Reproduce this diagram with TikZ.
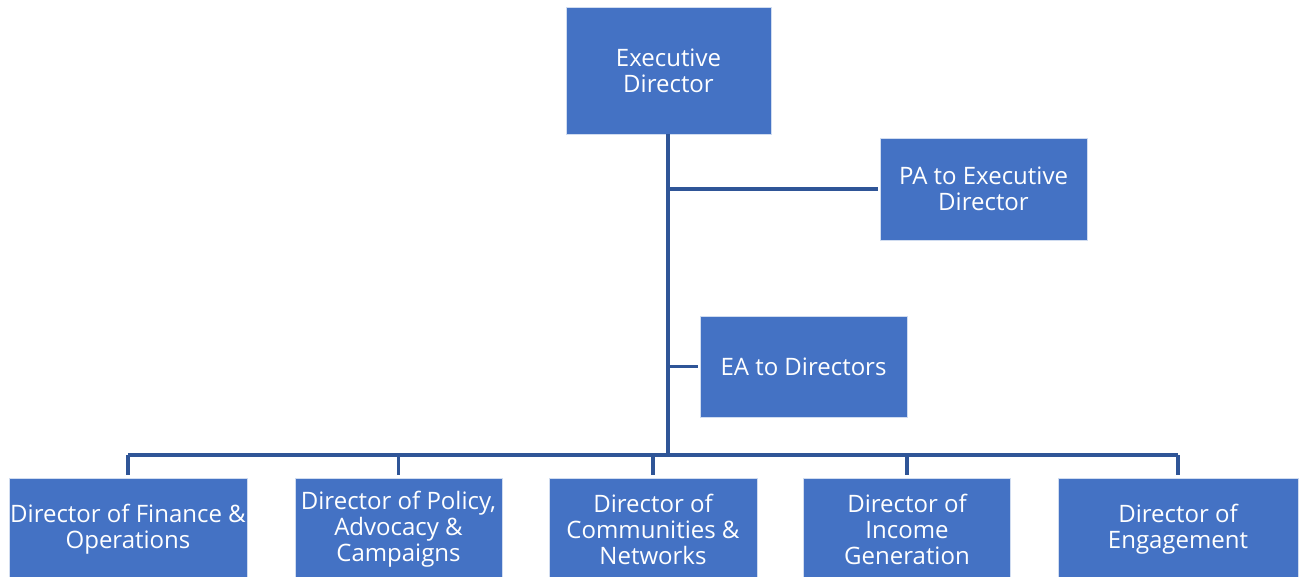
\documentclass[tikz,border=0pt]{standalone}
\usepackage{fontspec}
\setmainfont{Open Sans}
\begin{document}
\begin{tikzpicture}[x=0.75pt,y=-0.75pt,
    box/.style={fill=boxblue, draw=white!75!boxblue, line width=0.6pt, text=white,
      inner sep=0pt, align=center, font=\fontsize{18}{19.5}\selectfont},
    link/.style={draw=lineblue, line width=2.4pt}]
    \definecolor{boxblue}{HTML}{4472C4}
    \definecolor{lineblue}{HTML}{2F5597}
    \useasboundingbox (0,0) rectangle (1303,576);
    % top level
    \node[box, minimum width=153.75pt, minimum height=95.25pt] (ed) at (668.5,70.5) {Executive\\Director};
    \node[box, minimum width=155.25pt, minimum height=76.5pt] (pa) at (983.5,189) {PA to Executive\\Director};
    \node[box, minimum width=155.25pt, minimum height=75.75pt] (ea) at (803.5,366.5) {EA to Directors};
    % directors
    \node[box, minimum width=178.5pt, minimum height=76.5pt] (d1) at (128,529) {Director of Finance \&\\Operations};
    \node[box, minimum width=155.25pt, minimum height=76.5pt] (d2) at (398.5,529) {Director of Policy,\\Advocacy \&\\Campaigns};
    \node[box, minimum width=156pt, minimum height=76.5pt] (d3) at (653,529) {Director of\\Communities \&\\Networks};
    \node[box, minimum width=155.25pt, minimum height=76.5pt] (d4) at (907,529) {Director of\\Income\\Generation};
    \node[box, minimum width=180pt, minimum height=76.5pt] (d5) at (1178,529) {Director of\\Engagement};
    \coordinate (bus) at (668,455);
    % connectors
    \draw[link] (ed.south -| bus) -- (bus);
    \draw[link] (bus |- pa.west) -- ([xshift=-1.5pt]pa.west);
    \draw[link] (bus |- ea.west) -- ([xshift=-1.5pt]ea.west);
    \draw[link] (d1.north |- bus) -- (d5.north |- bus);
    \foreach \i in {1,...,5}
      \draw[link] (d\i.north |- bus) -- ([yshift=2pt]d\i.north);
\end{tikzpicture}
\end{document}
